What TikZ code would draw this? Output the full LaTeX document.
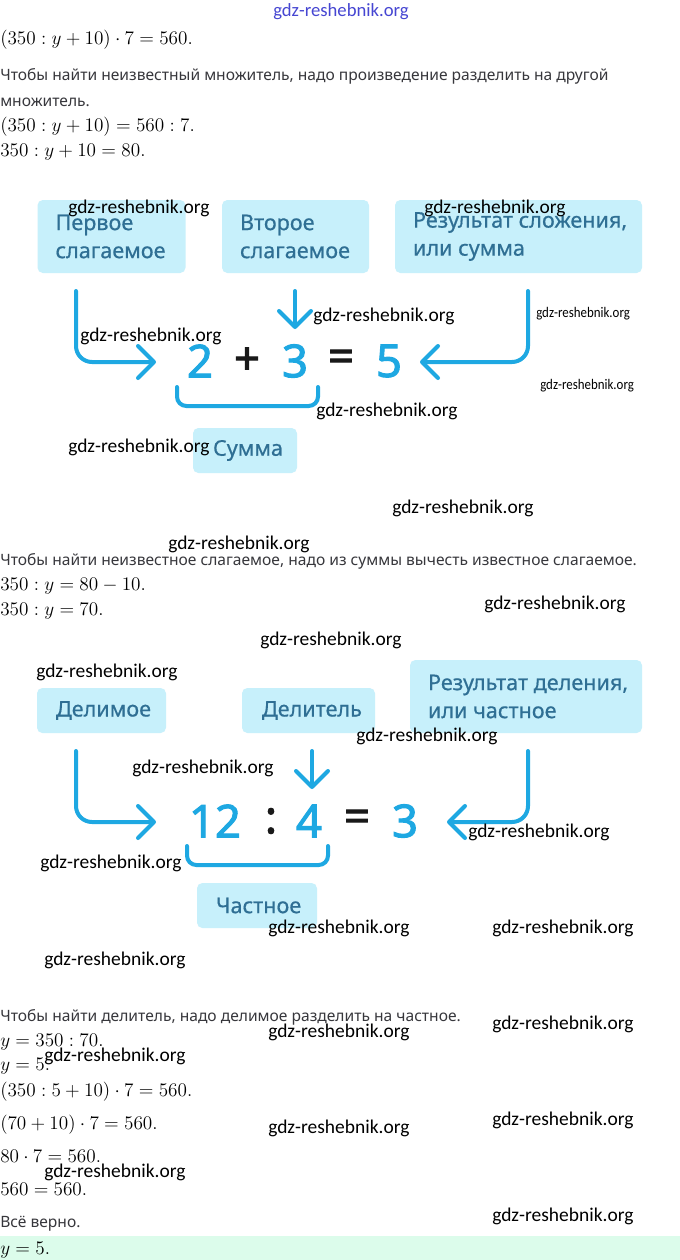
\documentclass[tikz,border=0pt]{standalone}
\usepackage[no-math]{fontspec}
\newfontfamily\txtf{Noto Sans}
\newfontfamily\lblf{Noto Sans}[FakeBold=0.6]
\newfontfamily\wmf{Carlito}
\newfontfamily\eqf{Noto Sans}[FakeBold=2.2]
\usetikzlibrary{arrows.meta}
\definecolor{arrC}{RGB}{30,168,226}
\definecolor{boxC}{RGB}{199,240,251}
\definecolor{boxT}{RGB}{47,111,148}
\definecolor{paraC}{RGB}{55,55,60}
\definecolor{okC}{RGB}{220,252,235}
\definecolor{wmBlue}{RGB}{70,70,210}
\tikzset{
  wm/.style={font=\wmf\fontsize{14.6}{16}\selectfont, text=black, anchor=west, inner sep=0},
  wms/.style={font=\wmf\fontsize{11}{13}\selectfont, text=black, anchor=west, inner sep=0},
  para/.style={font=\txtf\fontsize{11.7}{13}\selectfont, text=paraC, anchor=base west, inner sep=0},
  mathl/.style={font=\fontsize{14.4}{17}\selectfont, anchor=base west, inner sep=0},
  lblbox/.style={fill=boxC, rounded corners=4pt, inner sep=0},
  boxtxt/.style={font=\lblf\fontsize{16.2}{21}\selectfont, text=boxT, align=left, anchor=west, inner sep=0},
  arr/.style={draw=arrC, line width=3pt, rounded corners=12pt, line cap=round,
     -{Straight Barb[length=12pt,width=24pt,round]}},
  brk/.style={draw=arrC, line width=3pt, rounded corners=7pt, line cap=round},
  dig/.style={font=\eqf\fontsize{34}{34}\selectfont, text=arrC, inner sep=0},
  opr/.style={font=\eqf\fontsize{34}{34}\selectfont, text=black!90, inner sep=0}
}
\begin{document}
\begin{tikzpicture}[x=0.75pt,y=-0.75pt]
\useasboundingbox[fill=white] (0,0) rectangle (680,1260);

% top watermark
\node[font=\wmf\fontsize{14}{16}\selectfont, text=wmBlue, inner sep=0] (wtop) at (341,12) {gdz-reshebnik.org};

% ---------- section 1 text ----------
\node[mathl] (m1) at (0,44) {$(350 : y + 10) \cdot 7 = 560.$};
\node[para] (p1) at (0,80) {Чтобы найти неизвестный множитель, надо произведение разделить на другой};
\node[para] (p2) at (0,106) {множитель.};
\node[mathl] (m2) at (0,131) {$(350 : y + 10) = 560 : 7.$};
\node[mathl] (m3) at (0,156) {$350 : y + 10 = 80.$};

% ---------- diagram 1 ----------
\node[lblbox, minimum width=111pt, minimum height=54.75pt] (b1) at (111.5,236.5) {};
\node[lblbox, minimum width=110.25pt, minimum height=54.75pt] (b2) at (295.5,236.5) {};
\node[lblbox, minimum width=185.25pt, minimum height=54.75pt] (b3) at (518.5,236.5) {};
\node[boxtxt] (t1) at ([xshift=13.5pt]b1.west) {Первое\\слагаемое};
\node[boxtxt] (t2) at ([xshift=13.5pt]b2.west) {Второе\\слагаемое};
\node[boxtxt] (t3) at ([xshift=13.5pt]b3.west) {Результат сложения,\\или сумма};

\node[dig] (d2) at (200,361) {2};
\node[opr] (dplus) at (247,361) {+};
\node[dig] (d3) at (295,361) {3};
\node[opr] (deq) at (341,361) {=};
\node[dig] (d5) at (389,361) {5};

\coordinate (a1s) at (76,291);
\coordinate (a1e) at (156,362);
\coordinate (a2s) at (295,291);
\coordinate (a2e) at (295,329);
\coordinate (a3s) at (528,291);
\coordinate (a3e) at (420,362);
\draw[arr] (a1s) |- (a1e);
\draw[arr] (a2s) -- (a2e);
\draw[arr] (a3s) |- (a3e);

\coordinate (k1a) at (177,387);
\coordinate (k1b) at (318,387);
\draw[brk] (k1a) -- ++(0,19) -| (k1b);

\node[lblbox, minimum width=78pt, minimum height=33.75pt] (b4) at (245,450.5) {};
\node[boxtxt] (t4) at ([xshift=15pt]b4.west) {Сумма};

% ---------- section 2 text ----------
\node[para] (p3) at (0,565) {Чтобы найти неизвестное слагаемое, надо из суммы вычесть известное слагаемое.};
\node[mathl] (m4) at (0,590) {$350 : y = 80 - 10.$};
\node[mathl] (m5) at (0,615) {$350 : y = 70.$};

% ---------- diagram 2 ----------
\node[lblbox, minimum width=96.75pt, minimum height=33.75pt] (c1) at (101.5,710.5) {};
\node[lblbox, minimum width=99.75pt, minimum height=33.75pt] (c2) at (308.5,710.5) {};
\node[lblbox, minimum width=174pt, minimum height=54.75pt] (c3) at (526,696.5) {};
\node[boxtxt] (u1) at ([xshift=14.25pt]c1.west) {Делимое};
\node[boxtxt] (u2) at ([xshift=15pt]c2.west) {Делитель};
\node[boxtxt] (u3) at ([xshift=13.5pt]c3.west) {Результат деления,\\или частное};

\node[dig] (e12) at (215,821) {12};
\node[opr] (ecol) at (271,821) {:};
\node[dig] (e4) at (309,821) {4};
\node[opr] (eeq) at (357,821) {=};
\node[dig] (e3) at (405,821) {3};

\coordinate (f1s) at (76,751);
\coordinate (f1e) at (156,822);
\coordinate (f2s) at (312,751);
\coordinate (f2e) at (312,789);
\coordinate (f3s) at (528,751);
\coordinate (f3e) at (447,822);
\draw[arr] (f1s) |- (f1e);
\draw[arr] (f2s) -- (f2e);
\draw[arr] (f3s) |- (f3e);

\coordinate (k2a) at (187,846);
\coordinate (k2b) at (328,846);
\draw[brk] (k2a) -- ++(0,19) -| (k2b);

\node[lblbox, minimum width=90pt, minimum height=33.75pt] (c4) at (257,905.5) {};
\node[boxtxt] (u4) at ([xshift=14.25pt]c4.west) {Частное};

% ---------- section 3 text ----------
\node[para] (p4) at (0,1021) {Чтобы найти делитель, надо делимое разделить на частное.};
\node[mathl] (m6) at (0,1046) {$y = 350 : 70.$};
\node[mathl] (m7) at (0,1070) {$y = 5.$};
\node[mathl] (m8) at (0,1096) {$(350 : 5 + 10) \cdot 7 = 560.$};
\node[mathl] (m9) at (0,1129) {$(70 + 10) \cdot 7 = 560.$};
\node[mathl] (m10) at (0,1162) {$80 \cdot 7 = 560.$};
\node[mathl] (m11) at (0,1195) {$560 = 560.$};
\node[para] (p5) at (0,1227) {Всё верно.};
\node[fill=okC, minimum width=510pt, minimum height=18pt, inner sep=0, anchor=north west] (ok) at (0,1236) {};
\node[mathl] (m12) at (0,1254) {$y = 5.$};

% ---------- watermarks ----------
\node[wm] (w1) at (68,208) {gdz-reshebnik.org};
\node[wm] (w2) at (424,208) {gdz-reshebnik.org};
\node[wm] (w3) at (313,316) {gdz-reshebnik.org};
\node[wm] (w4) at (80,336) {gdz-reshebnik.org};
\node[wms] (w5) at (536,314) {\scalebox{0.88}[1]{gdz-reshebnik.org}};
\node[wms] (w6) at (540,386) {\scalebox{0.88}[1]{gdz-reshebnik.org}};
\node[wm] (w7) at (316,411) {gdz-reshebnik.org};
\node[wm] (w8) at (68,447) {gdz-reshebnik.org};
\node[wm] (w9) at (392,508) {gdz-reshebnik.org};
\node[wm] (w10) at (168,544) {gdz-reshebnik.org};
\node[wm] (w11) at (484,604) {gdz-reshebnik.org};
\node[wm] (w12) at (260,640) {gdz-reshebnik.org};
\node[wm] (w13) at (36,672) {gdz-reshebnik.org};
\node[wm] (w14) at (356,736) {gdz-reshebnik.org};
\node[wm] (w15) at (132,768) {gdz-reshebnik.org};
\node[wm] (w16) at (468,832) {gdz-reshebnik.org};
\node[wm] (w17) at (40,863) {gdz-reshebnik.org};
\node[wm] (w18) at (268,928) {gdz-reshebnik.org};
\node[wm] (w19) at (492,928) {gdz-reshebnik.org};
\node[wm] (w20) at (44,960) {gdz-reshebnik.org};
\node[wm] (w21) at (492,1024) {gdz-reshebnik.org};
\node[wm] (w22) at (268,1032) {gdz-reshebnik.org};
\node[wm] (w23) at (44,1056) {gdz-reshebnik.org};
\node[wm] (w24) at (492,1120) {gdz-reshebnik.org};
\node[wm] (w25) at (268,1128) {gdz-reshebnik.org};
\node[wm] (w26) at (44,1172) {gdz-reshebnik.org};
\node[wm] (w27) at (492,1216) {gdz-reshebnik.org};
\end{tikzpicture}
\end{document}
